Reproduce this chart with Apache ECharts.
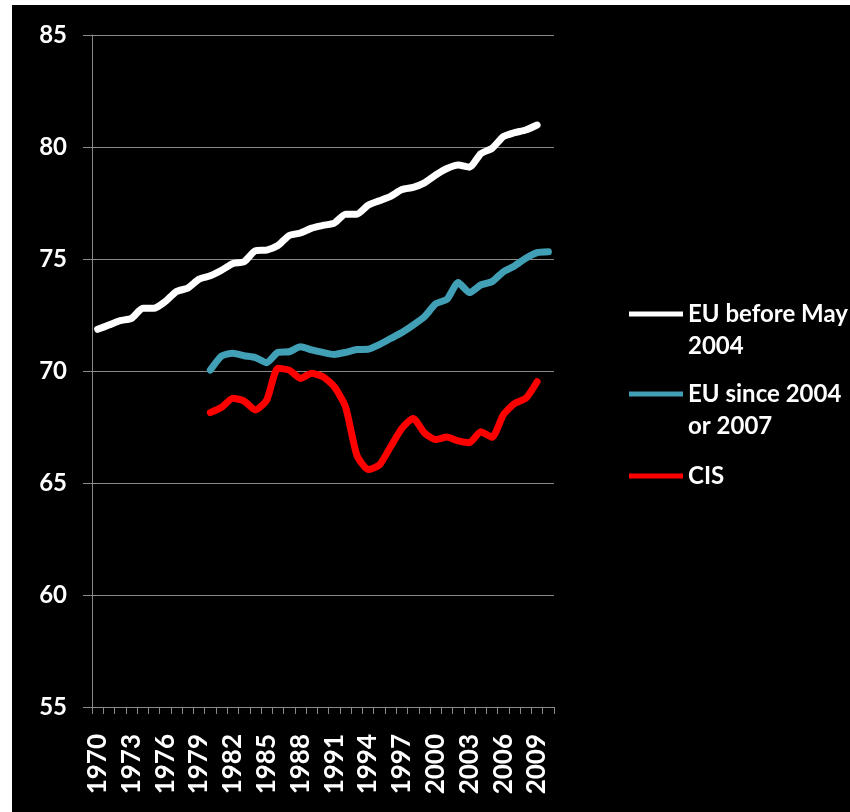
<!DOCTYPE html>
<html>
<head>
<meta charset="utf-8">
<script src="https://cdn.jsdelivr.net/npm/echarts@6/dist/echarts.min.js"></script>
<style>
  html, body { margin: 0; padding: 0; background: #ffffff; }
  #chart { position: absolute; left: 12px; top: 5px; width: 838px; height: 807px; background: #000000; }
</style>
</head>
<body>
<div id="chart"></div>
<script>
// Life expectancy at birth, 1970–2010
const years = [];
for (let y = 1970; y <= 2010; y++) years.push(String(y));

const yTicks = { min: 55, max: 85, step: 5 };

// EU before May 2004 (1970–2009)
const euBefore2004 = [71.86, 72.05, 72.25, 72.35, 72.8, 72.8, 73.1, 73.55, 73.7, 74.1,
  74.25, 74.5, 74.8, 74.88, 75.37, 75.4, 75.6, 76.05, 76.16, 76.38,
  76.5, 76.6, 77.0, 77.0, 77.4, 77.6, 77.8, 78.1, 78.2, 78.4,
  78.75, 79.04, 79.2, 79.1, 79.7, 79.94, 80.46, 80.64, 80.76, 80.98];

// EU since 2004 or 2007 (1980–2010)
const euSince2004 = [70.04, 70.67, 70.79, 70.68, 70.6, 70.37, 70.83, 70.86, 71.08, 70.94,
  70.83, 70.74, 70.83, 70.96, 70.97, 71.18, 71.45, 71.72, 72.05, 72.42,
  73.0, 73.2, 73.95, 73.5, 73.84, 73.99, 74.43, 74.69, 75.03, 75.28, 75.32];

// CIS (1980–2009)
const cis = [68.14, 68.38, 68.78, 68.66, 68.26, 68.7, 70.12, 70.04, 69.67, 69.9,
  69.74, 69.3, 68.4, 66.25, 65.6, 65.8, 66.62, 67.44, 67.88, 67.24,
  66.94, 67.05, 66.88, 66.8, 67.29, 67.04, 68.04, 68.55, 68.78, 69.52];

const seriesNames = ['EU before May\n2004', 'EU since 2004\nor 2007', 'CIS'];
const seriesColors = ['#ffffff', '#42a0b6', '#ff0000'];

// align a series that starts later than the first category
function alignTo(startYear, values) {
  const out = years.map(() => '-');
  const offset = startYear - 1970;
  values.forEach((v, i) => { out[offset + i] = v; });
  return out;
}

const seriesData = [alignTo(1970, euBefore2004), alignTo(1980, euSince2004), alignTo(1980, cis)];

const FONT = 'Lato';
const gridColor = '#8a8a8a';

// each legend entry is its own block; two-line names get a blank first line
// so that the swatch sits beside the first line of text
function legendFor(idx, top) {
  return {
    data: [seriesNames[idx]],
    left: 612,
    top: top,
    orient: 'vertical',
    icon: 'rect',
    itemWidth: 54,
    itemHeight: 5,
    itemGap: 0,
    selectedMode: false,
    formatter: name => (name.indexOf('\n') >= 0 ? ' \n' + name : name),
    textStyle: {
      color: '#ffffff',
      fontFamily: FONT,
      fontWeight: 'bold',
      fontSize: 24,
      lineHeight: 32
    }
  };
}

const chart = echarts.init(document.getElementById('chart'), null, { renderer: 'canvas' });
chart.setOption({
  backgroundColor: '#000000',
  animation: false,
  grid: { left: 80, top: 30, width: 462, height: 672, containLabel: false },
  legend: [legendFor(0, 256), legendFor(1, 336), legendFor(2, 450)],
  xAxis: {
    type: 'category',
    data: years,
    boundaryGap: true,
    axisLine: { show: true, lineStyle: { color: gridColor, width: 1 } },
    axisTick: { show: true, interval: 0, length: 7, lineStyle: { color: gridColor } },
    axisLabel: {
      interval: 2,
      rotate: 90,
      margin: 27,
      color: '#ffffff',
      fontFamily: FONT,
      fontWeight: 'bold',
      fontSize: 26
    },
    splitLine: { show: false }
  },
  yAxis: {
    type: 'value',
    min: yTicks.min,
    max: yTicks.max,
    interval: yTicks.step,
    axisLine: { show: true, lineStyle: { color: gridColor, width: 1 } },
    axisTick: { show: true, length: 9, lineStyle: { color: gridColor } },
    axisLabel: {
      margin: 25,
      color: '#ffffff',
      fontFamily: FONT,
      fontWeight: 'bold',
      fontSize: 24
    },
    splitLine: { show: true, lineStyle: { color: gridColor, width: 1 } }
  },
  series: seriesNames.map((name, i) => ({
    name: name,
    type: 'line',
    data: seriesData[i],
    showSymbol: false,
    smooth: 0.2,
    color: seriesColors[i],
    lineStyle: { width: 7, color: seriesColors[i], cap: 'round', join: 'round' },
    emphasis: { disabled: true }
  }))
});
</script>
</body>
</html>
